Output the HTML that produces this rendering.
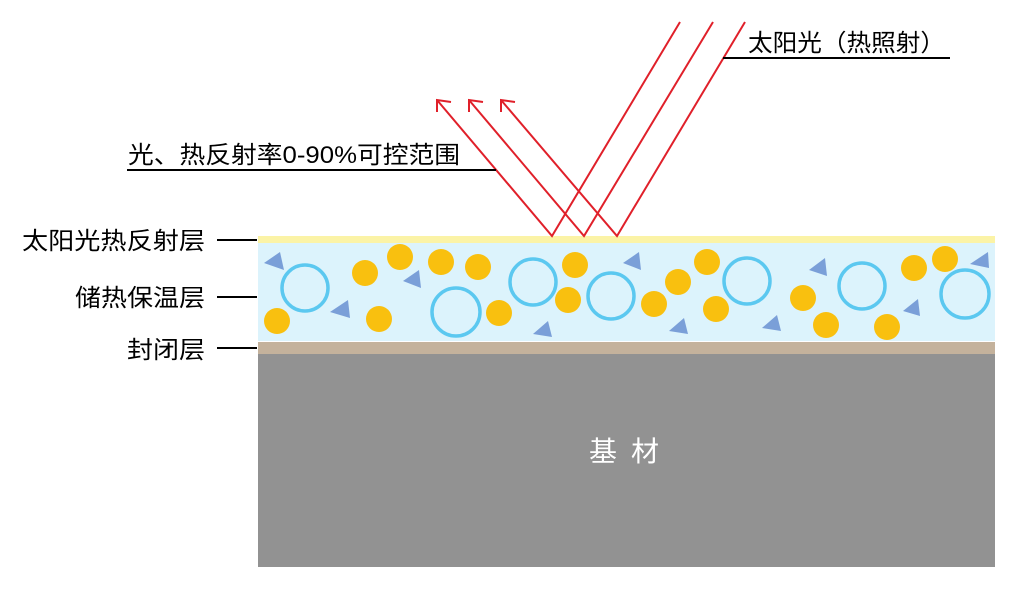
<!DOCTYPE html>
<html><head><meta charset="utf-8"><style>
html,body{margin:0;padding:0;background:#fff;width:1026px;height:598px;overflow:hidden}
</style></head><body>
<svg width="1026" height="598" viewBox="0 0 1026 598" xmlns="http://www.w3.org/2000/svg" font-family="Liberation Sans, Noto Sans CJK SC, sans-serif">
<rect x="258" y="236" width="737" height="7" fill="#fbf3a6"/>
<rect x="258" y="243" width="737" height="98" fill="#dcf3fc"/>
<rect x="258" y="342" width="737" height="12" fill="#c4b29c"/>
<rect x="258" y="354" width="737" height="213" fill="#929292"/>
<text x="631" y="461" font-size="28" fill="#fff" text-anchor="middle" letter-spacing="14">基材</text>
<g fill="none" stroke="#5bc8f0" stroke-width="3.5">
<circle cx="305" cy="288" r="23"/><circle cx="456" cy="312" r="24"/><circle cx="533" cy="282" r="23"/>
<circle cx="611" cy="296" r="23"/><circle cx="747" cy="281" r="23"/><circle cx="862" cy="286" r="23"/><circle cx="965" cy="294" r="24"/>
</g>
<g fill="#f9c00f">
<circle cx="365" cy="273" r="13"/><circle cx="400" cy="257" r="13"/><circle cx="441" cy="262" r="13"/><circle cx="478" cy="267" r="13"/>
<circle cx="277" cy="321" r="13"/><circle cx="379" cy="319" r="13"/><circle cx="499" cy="313" r="13"/><circle cx="568" cy="300" r="13"/>
<circle cx="575" cy="265" r="13"/><circle cx="654" cy="304" r="13"/><circle cx="678" cy="282" r="13"/><circle cx="707" cy="262" r="13"/>
<circle cx="716" cy="309" r="13"/><circle cx="803" cy="298" r="13"/><circle cx="826" cy="325" r="13"/><circle cx="887" cy="327" r="13"/>
<circle cx="914" cy="268" r="13"/><circle cx="945" cy="259" r="13"/>
</g>
<g fill="#7a9fd8">
<polygon points="264,263 280,252 284,270"/><polygon points="330,312 348,300 350,318"/><polygon points="403,281 419,270 421,288"/>
<polygon points="533,334 548,321 552,337"/><polygon points="623,263 639,252 641,270"/><polygon points="669,331 684,318 688,334"/>
<polygon points="762,328 777,315 781,331"/><polygon points="809,270 825,258 827,276"/><polygon points="903,311 918,299 920,316"/>
<polygon points="970,264 988,252 989,268"/>
</g>
<g stroke="#e0202a" stroke-width="2" fill="none">
<polyline points="680,22 552,236 437,100"/>
<polyline points="713,22 584,236 469,100"/>
<polyline points="745,22 617,236 501,100"/>
<polyline points="437,112 437,100 451,102"/>
<polyline points="469,112 469,100 483,102"/>
<polyline points="501,112 501,100 515,102"/>
</g>
<g stroke="#000" stroke-width="2">
<line x1="723" y1="58" x2="950" y2="58"/>
<line x1="127" y1="170" x2="496" y2="170"/>
<line x1="217" y1="240" x2="257" y2="240"/>
<line x1="217" y1="297" x2="257" y2="297"/>
<line x1="217" y1="348" x2="257" y2="348"/>
</g>
<g font-size="24" fill="#000">
<text x="748" y="51" textLength="197" lengthAdjust="spacingAndGlyphs">太阳光（热照射）</text>
<text x="128" y="163" textLength="332" lengthAdjust="spacingAndGlyphs">光、热反射率0-90%可控范围</text>
<text x="22" y="249" textLength="183" lengthAdjust="spacingAndGlyphs">太阳光热反射层</text>
<text x="75" y="306" textLength="130" lengthAdjust="spacingAndGlyphs">储热保温层</text>
<text x="127" y="358" textLength="78" lengthAdjust="spacingAndGlyphs">封闭层</text>
</g>
</svg>
</body></html>
